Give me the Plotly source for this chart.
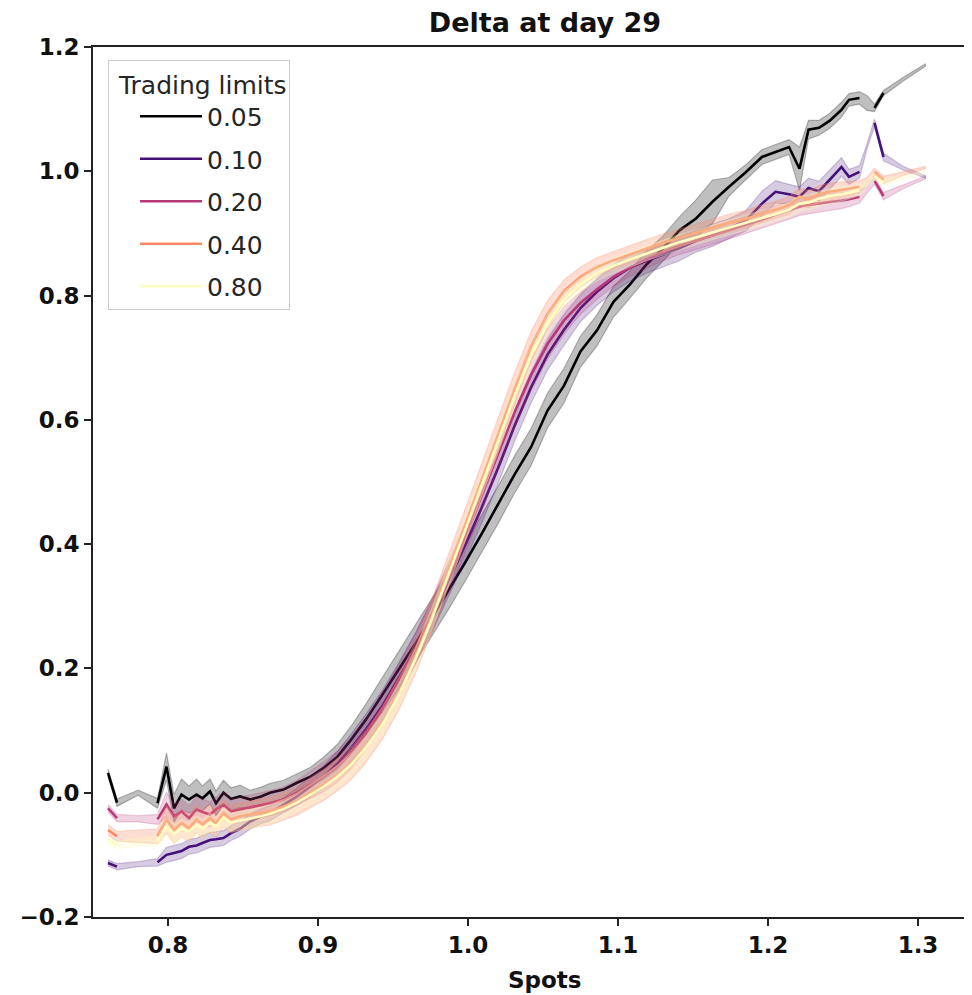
import plotly.graph_objects as go

# spot grid shared by all curves
SPOTS = [0.760, 0.766, 0.780, 0.793, 0.799, 0.804, 0.809, 0.814, 0.819, 0.823,
         0.828, 0.832, 0.837, 0.842, 0.848, 0.855, 0.862, 0.868, 0.877, 0.886,
         0.895, 0.904, 0.913, 0.922, 0.932, 0.943, 0.954, 0.965, 0.976, 0.987,
         0.998, 1.009, 1.020, 1.031, 1.042, 1.053, 1.064, 1.075, 1.086, 1.097,
         1.108, 1.119, 1.130, 1.141, 1.152, 1.163, 1.174, 1.185, 1.196, 1.205,
         1.214, 1.221, 1.227, 1.234, 1.241, 1.249, 1.254, 1.261, 1.266, 1.271,
         1.277, 1.290, 1.305]

# spots where the mean line is missing (only the band shows)
LINE_GAPS = [0.780, 1.266, 1.290, 1.305]

LIMITS = ["0.05", "0.10", "0.20", "0.40", "0.80"]

delta_005 = [0.032, -0.016, 0.000, -0.017, 0.042, -0.025, -0.003, -0.011, -0.003, -0.009,
             0.002, -0.017, 0.000, -0.010, -0.006, -0.011, -0.006, 0.000, 0.005, 0.016,
             0.026, 0.040, 0.058, 0.085, 0.118, 0.158, 0.198, 0.240, 0.282, 0.325,
             0.370, 0.416, 0.463, 0.512, 0.556, 0.615, 0.655, 0.710, 0.744, 0.790,
             0.818, 0.850, 0.876, 0.905, 0.924, 0.951, 0.975, 0.998, 1.023, 1.031,
             1.039, 1.004, 1.067, 1.070, 1.081, 1.099, 1.115, 1.118, 1.110, 1.102,
             1.126, 1.148, 1.171]
delta_010 = [-0.113, -0.119, -0.115, -0.112, -0.100, -0.097, -0.094, -0.087, -0.085, -0.081,
             -0.076, -0.075, -0.073, -0.065, -0.058, -0.046, -0.038, -0.033, -0.020, -0.006,
             0.010, 0.026, 0.047, 0.072, 0.102, 0.140, 0.185, 0.232, 0.284, 0.340,
             0.398, 0.458, 0.522, 0.590, 0.652, 0.705, 0.745, 0.780, 0.806, 0.828,
             0.845, 0.856, 0.866, 0.876, 0.888, 0.897, 0.908, 0.920, 0.948, 0.967,
             0.963, 0.959, 0.973, 0.968, 0.986, 1.007, 0.991, 0.999, 1.040, 1.078,
             1.023, 1.005, 0.991]
delta_020 = [-0.025, -0.041, -0.042, -0.043, -0.019, -0.038, -0.030, -0.041, -0.027, -0.031,
             -0.035, -0.027, -0.019, -0.030, -0.027, -0.024, -0.020, -0.017, -0.011, 0.000,
             0.013, 0.026, 0.042, 0.064, 0.095, 0.137, 0.182, 0.232, 0.287, 0.346,
             0.410, 0.476, 0.545, 0.612, 0.672, 0.722, 0.760, 0.788, 0.810, 0.830,
             0.845, 0.858, 0.870, 0.880, 0.888, 0.896, 0.905, 0.914, 0.922, 0.930,
             0.937, 0.943, 0.946, 0.948, 0.951, 0.953, 0.955, 0.959, 0.970, 0.985,
             0.960, 0.975, 0.990]
delta_040 = [-0.060, -0.070, -0.070, -0.070, -0.043, -0.060, -0.049, -0.057, -0.043, -0.051,
             -0.041, -0.049, -0.033, -0.043, -0.038, -0.035, -0.032, -0.030, -0.022, -0.014,
             0.000, 0.013, 0.029, 0.047, 0.075, 0.112, 0.160, 0.218, 0.285, 0.356,
             0.430, 0.503, 0.575, 0.650, 0.718, 0.770, 0.807, 0.830, 0.846, 0.857,
             0.866, 0.876, 0.885, 0.893, 0.901, 0.910, 0.917, 0.923, 0.932, 0.938,
             0.945, 0.959, 0.955, 0.963, 0.967, 0.970, 0.972, 0.975, 0.985, 0.999,
             0.986, 0.996, 1.006]
delta_080 = [-0.076, -0.084, -0.080, -0.078, -0.055, -0.066, -0.058, -0.062, -0.052, -0.058,
             -0.048, -0.054, -0.040, -0.048, -0.045, -0.042, -0.038, -0.034, -0.026, -0.016,
             -0.003, 0.010, 0.026, 0.045, 0.073, 0.110, 0.158, 0.215, 0.280, 0.350,
             0.422, 0.494, 0.565, 0.638, 0.703, 0.755, 0.793, 0.818, 0.836, 0.848,
             0.858, 0.868, 0.877, 0.886, 0.894, 0.902, 0.910, 0.917, 0.925, 0.931,
             0.938, 0.948, 0.950, 0.956, 0.960, 0.963, 0.966, 0.969, 0.980, 0.992,
             0.982, 0.990, 0.998]

# half-width of the shaded band around each curve
spread_005 = [0.006, 0.006, 0.004, 0.008, 0.022, 0.022, 0.025, 0.022, 0.025, 0.020,
              0.020, 0.020, 0.020, 0.018, 0.018, 0.015, 0.015, 0.015, 0.015, 0.015,
              0.015, 0.018, 0.020, 0.022, 0.025, 0.028, 0.030, 0.030, 0.030, 0.030,
              0.030, 0.030, 0.030, 0.030, 0.030, 0.028, 0.028, 0.025, 0.025, 0.025,
              0.022, 0.022, 0.020, 0.022, 0.030, 0.035, 0.015, 0.012, 0.012, 0.012,
              0.012, 0.035, 0.015, 0.012, 0.012, 0.012, 0.010, 0.010, 0.012, 0.006,
              0.004, 0.003, 0.002]
spread_010 = [0.005, 0.005, 0.004, 0.006, 0.012, 0.012, 0.012, 0.012, 0.012, 0.012,
              0.012, 0.012, 0.012, 0.012, 0.012, 0.012, 0.012, 0.012, 0.012, 0.014,
              0.016, 0.018, 0.020, 0.022, 0.025, 0.025, 0.025, 0.025, 0.025, 0.025,
              0.025, 0.025, 0.025, 0.025, 0.025, 0.025, 0.025, 0.022, 0.022, 0.022,
              0.022, 0.020, 0.020, 0.020, 0.018, 0.018, 0.016, 0.016, 0.020, 0.018,
              0.016, 0.016, 0.016, 0.016, 0.016, 0.015, 0.012, 0.010, 0.004, 0.006,
              0.006, 0.003, 0.002]
spread_020 = [0.006, 0.006, 0.005, 0.008, 0.020, 0.020, 0.020, 0.020, 0.020, 0.020,
              0.020, 0.020, 0.020, 0.020, 0.020, 0.020, 0.020, 0.020, 0.020, 0.020,
              0.022, 0.024, 0.025, 0.025, 0.025, 0.025, 0.025, 0.025, 0.025, 0.025,
              0.025, 0.025, 0.025, 0.025, 0.025, 0.024, 0.022, 0.018, 0.016, 0.015,
              0.014, 0.014, 0.014, 0.014, 0.014, 0.014, 0.014, 0.014, 0.014, 0.014,
              0.014, 0.014, 0.014, 0.014, 0.014, 0.013, 0.012, 0.010, 0.005, 0.006,
              0.006, 0.003, 0.002]
spread_040 = [0.008, 0.008, 0.010, 0.012, 0.022, 0.022, 0.022, 0.022, 0.022, 0.022,
              0.022, 0.022, 0.022, 0.022, 0.022, 0.022, 0.022, 0.022, 0.022, 0.022,
              0.024, 0.025, 0.026, 0.026, 0.026, 0.026, 0.026, 0.026, 0.026, 0.026,
              0.026, 0.026, 0.026, 0.026, 0.024, 0.022, 0.018, 0.016, 0.015, 0.014,
              0.014, 0.014, 0.014, 0.014, 0.014, 0.014, 0.014, 0.014, 0.014, 0.014,
              0.014, 0.014, 0.014, 0.014, 0.014, 0.013, 0.012, 0.010, 0.005, 0.006,
              0.006, 0.003, 0.002]
spread_080 = [0.006, 0.006, 0.006, 0.008, 0.015, 0.015, 0.015, 0.015, 0.015, 0.015,
              0.015, 0.015, 0.015, 0.015, 0.015, 0.015, 0.015, 0.015, 0.015, 0.015,
              0.016, 0.018, 0.018, 0.018, 0.018, 0.018, 0.018, 0.018, 0.018, 0.018,
              0.018, 0.018, 0.018, 0.018, 0.017, 0.016, 0.014, 0.012, 0.012, 0.012,
              0.012, 0.012, 0.012, 0.012, 0.012, 0.012, 0.012, 0.012, 0.012, 0.012,
              0.012, 0.012, 0.012, 0.012, 0.012, 0.011, 0.010, 0.008, 0.005, 0.006,
              0.006, 0.003, 0.002]

# magma colormap samples
line_colors = ["#000004", "#451077", "#b73779", "#fc8961", "#fcfdbf"]
band_colors = ["rgba(0,0,4,0.25)", "rgba(69,16,119,0.22)", "rgba(183,55,121,0.22)",
               "rgba(252,137,97,0.28)", "rgba(252,253,191,0.3)"]

series = [delta_005, delta_010, delta_020, delta_040, delta_080]
spreads = [spread_005, spread_010, spread_020, spread_040, spread_080]

fig = go.Figure()

for name, ys, sd, lc, bc in zip(LIMITS, series, spreads, line_colors, band_colors):
    hi = [y + s for y, s in zip(ys, sd)]
    lo = [y - s for y, s in zip(ys, sd)]
    fig.add_trace(go.Scatter(
        x=SPOTS + SPOTS[::-1], y=hi + lo[::-1],
        fill="toself", fillcolor=bc, mode="lines",
        line=dict(color=bc, width=1.2),
        showlegend=False, hoverinfo="skip",
    ))
    line_y = [None if x in LINE_GAPS else y for x, y in zip(SPOTS, ys)]
    fig.add_trace(go.Scatter(
        x=SPOTS, y=line_y, mode="lines", name=name,
        line=dict(color=lc, width=2.6), legendgroup=name,
        connectgaps=False,
    ))

tick_font = dict(family="DejaVu Sans", size=23, color="#111111", weight="bold")
axis_common = dict(
    showgrid=False, zeroline=False, showline=True, linecolor="#222222", linewidth=1.6,
    ticks="outside", ticklen=7, tickwidth=1.5, tickcolor="#222222", tickfont=tick_font,
)

# the page body adds an 8px offset, so the figure is 8px smaller than the window
W, H, OFF = 964, 987, 8

fig.update_layout(
    width=W, height=H,
    margin=dict(l=93 - OFF, r=0, t=47 - OFF, b=78),
    paper_bgcolor="white", plot_bgcolor="white",
    title=dict(text="Delta at day 29", x=(545 - OFF) / W, xref="container", xanchor="center",
               y=1 - (23 - OFF) / H, yref="container", yanchor="middle",
               font=dict(family="DejaVu Sans", size=27, color="#111111", weight="bold")),
    xaxis=dict(range=[0.75, 1.336], tickvals=[0.8, 0.9, 1.0, 1.1, 1.2, 1.3],
               tickformat=".1f", mirror=True, **axis_common),
    yaxis=dict(range=[-0.2, 1.2], tickvals=[-0.2, 0.0, 0.2, 0.4, 0.6, 0.8, 1.0, 1.2],
               tickformat=".1f", **axis_common),
    legend=dict(
        title=dict(text=" Trading limits", font=dict(family="DejaVu Sans", size=25, color="#262626")),
        font=dict(family="DejaVu Sans", size=25, color="#262626"),
        x=(108 - 93) / 879, y=1 - (60 - 47) / 870, xanchor="left", yanchor="top",
        bgcolor="rgba(255,255,255,0.85)", bordercolor="#cccccc", borderwidth=1,
        tracegroupgap=7, itemwidth=62, indentation=26,
    ),
    annotations=[dict(text="Spots", xref="paper", yref="paper",
                      x=(545 - 93) / 879, y=-(980 - 917) / 870,
                      xanchor="center", yanchor="middle", showarrow=False,
                      font=dict(family="DejaVu Sans", size=23, color="#111111", weight="bold"))],
)

fig.write_html("out.html")
